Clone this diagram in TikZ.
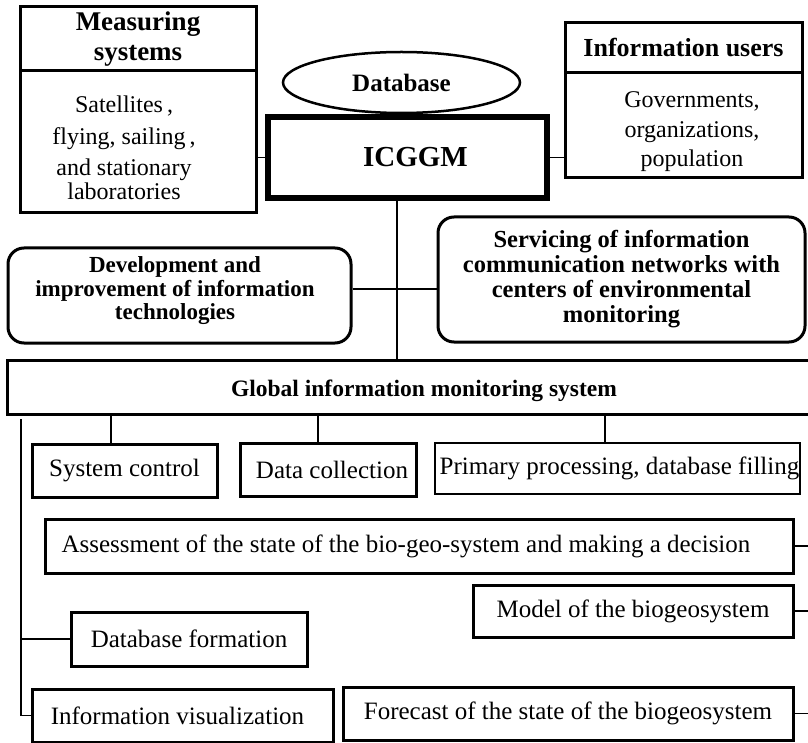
\documentclass[tikz,border=0pt]{standalone}
\usepackage{fontspec}
\setmainfont{Liberation Serif}
\usetikzlibrary{shapes.geometric}
\begin{document}
\begin{tikzpicture}[x=1pt,y=-1pt,
  box/.style={draw, rectangle, line width=3pt, inner sep=0pt, align=center,
    font=\fontsize{25}{28}\selectfont},
  thinbox/.style={box, line width=1.5pt},
  titlebox/.style={box, font=\fontsize{26}{29}\selectfont\bfseries},
  roundbox/.style={box, rounded corners=16pt},
  txt/.style={inner sep=0pt, align=center},
  link/.style={draw, line width=1.8pt},
  mainlink/.style={draw, line width=2.6pt}]
\useasboundingbox (0,0) rectangle (808,743);
% top section
\node[titlebox, minimum width=236, minimum height=64, font=\fontsize{27}{30}\selectfont\bfseries] (measT) at (138,39) {Measuring\\systems};
\node[box, minimum width=236, minimum height=142] (measB) at (138,142) {};
\node[txt, font=\fontsize{24}{24}\selectfont] (measTxt) at (124,148)
  {Satellites\,,\\[8pt] flying, sailing\,,\\[7pt] and stationary\\ laboratories};
\node[titlebox, minimum width=237, minimum height=50] (usersT) at (683.5,48) {Information users};
\node[box, minimum width=237, minimum height=105] (usersB) at (683.5,125.5) {};
\node[txt, font=\fontsize{24}{29.5}\selectfont] (usersTxt) at (692,132)
  {Governments,\\organizations,\\population};
\node[draw, ellipse, line width=2.5pt, minimum width=237, minimum height=61, inner sep=0pt,
  font=\fontsize{25}{28}\selectfont\bfseries] (db) at (401.5,82.5) {Database};
\node[box, line width=6pt, minimum width=279, minimum height=81,
  font=\fontsize{29}{32}\selectfont\bfseries] (icggm) at (407.5,157.5) {\hspace*{16pt}ICGGM};
\node[roundbox, minimum width=343, minimum height=95] (dev) at (179.5,295.5) {};
\node[txt, font=\fontsize{23}{23.5}\selectfont\bfseries] (devTxt) at (175,291)
  {Development and\\improvement of information\\technologies};
\node[roundbox, minimum width=367, minimum height=125, font=\fontsize{24.5}{25}\selectfont\bfseries] (serv) at (621.5,279.5)
  {Servicing of information\\communication networks with\\centers of environmental\\monitoring};
\node[box, minimum width=808, minimum height=54] (global) at (411,387) {};
\node[txt, font=\fontsize{23.5}{28}\selectfont\bfseries] (globalTxt) at (424,391)
  {Global information monitoring system};
% lower section
\node[box, minimum width=185, minimum height=53] (sysc) at (124.5,470.5) {System control};
\node[box, minimum width=176, minimum height=53] (datac) at (328,469.5) {\hspace*{8pt}Data collection};
\node[thinbox, minimum width=365, minimum height=51] (prim) at (617.5,468.5) {\hspace*{4pt}Primary processing, database filling};
\node[box, minimum width=748, minimum height=54] (assess) at (419,546)
  {Assessment of the state of the bio-geo-system and making a decision\hspace*{26pt}};
\node[box, minimum width=320, minimum height=52] (model) at (633,611) {Model of the biogeosystem};
\node[box, minimum width=236, minimum height=54] (dbform) at (189,639) {Database formation};
\node[box, minimum width=301, minimum height=53] (infovis) at (182.5,715.5) {Information visualization\hspace*{10pt}};
\node[box, minimum width=450, minimum height=53] (forecast) at (568,713.5) {Forecast of the state of the biogeosystem};
% helper coordinates
\coordinate (vx) at (397,0);
\coordinate (hy) at (0,289);
\coordinate (sx) at (111,0);
\coordinate (dx) at (318,0);
\coordinate (px) at (605,0);
\coordinate (L) at (21,419);
\coordinate (R) at (812,0);
% connectors
\path[link] (measB.east |- icggm.west) -- (icggm.west);
\path[link] (icggm.east) -- (usersB.west |- icggm.east);
\path[mainlink] (icggm.south -| vx) -- (global.north -| vx);
\path[link] (dev.east |- hy) -- (serv.west |- hy);
\path[link] (global.south -| sx) -- (sysc.north -| sx);
\path[link] (global.south -| dx) -- (datac.north -| dx);
\path[link] (global.south -| px) -- (prim.north -| px);
\path[link] (L) |- (infovis.west);
\path[link] (dbform.west -| L) -- (dbform.west);
\path[link] (assess.east) -- (assess.east -| R);
\path[link] (model.east) -- (model.east -| R);
\path[link] (forecast.east) -- (forecast.east -| R);
\end{tikzpicture}
\end{document}
